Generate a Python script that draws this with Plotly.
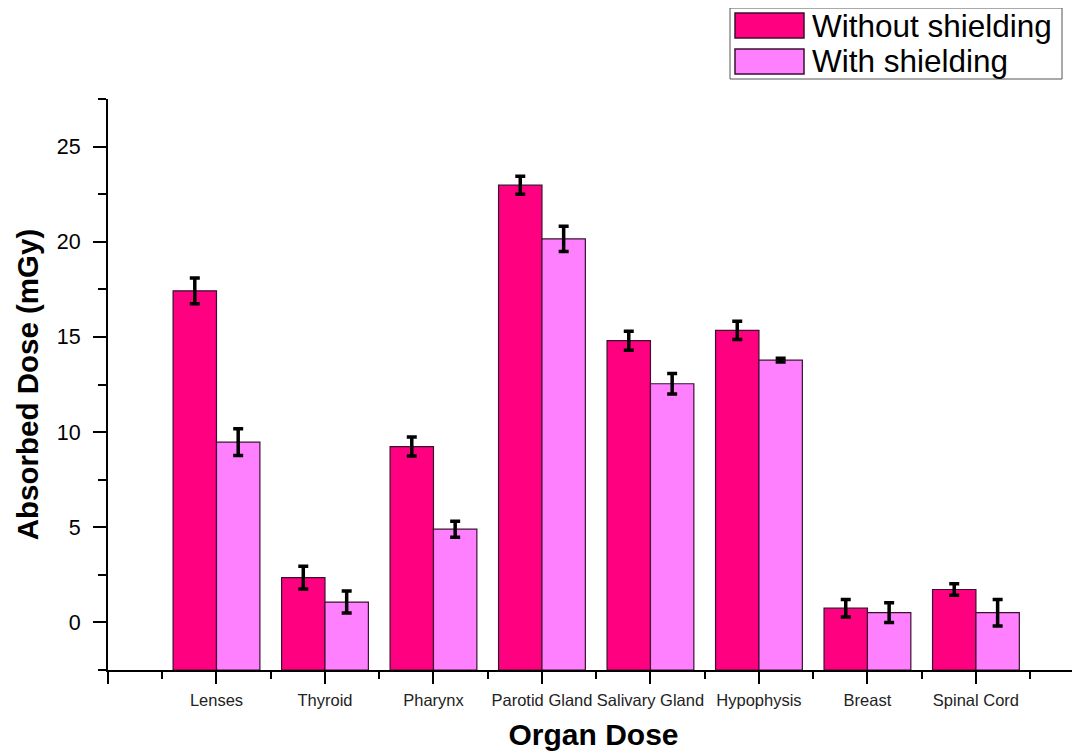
import plotly.graph_objects as go

categories = ["Lenses", "Thyroid", "Pharynx", "Parotid Gland", "Salivary Gland",
              "Hypophysis", "Breast", "Spinal Cord"]
without_shielding = [17.42, 2.35, 9.24, 22.97, 14.80, 15.34, 0.75, 1.73]
without_err = [0.68, 0.60, 0.50, 0.47, 0.50, 0.48, 0.46, 0.30]
with_shielding = [9.47, 1.07, 4.90, 20.15, 12.54, 13.78, 0.51, 0.51]
with_err = [0.70, 0.58, 0.42, 0.66, 0.54, 0.10, 0.52, 0.70]
y_ticks = [0, 5, 10, 15, 20, 25]

Y_MIN, Y_MAX = -2.5, 27.5
C_WITHOUT = "#FF0080"
C_WITH = "#FF80FF"
EDGE = "#3a1030"
FONT = "Arial, Liberation Sans, sans-serif"

xpos = list(range(1, len(categories) + 1))

fig = go.Figure()
for name, vals, errs, col in [("Without shielding", without_shielding, without_err, C_WITHOUT),
                              ("With shielding", with_shielding, with_err, C_WITH)]:
    fig.add_trace(go.Bar(
        name=name, x=xpos, y=[v - Y_MIN for v in vals], base=Y_MIN,
        marker=dict(color=col, line=dict(color=EDGE, width=1.2)),
        error_y=dict(type="data", array=errs, visible=True, color="black",
                     thickness=3.5, width=5),
        showlegend=False,
    ))

# page body has an 8px default margin, so the figure is shifted by 8px
fig.update_layout(
    barmode="group", bargap=0.2, bargroupgap=0,
    width=1080, height=751,
    margin=dict(l=100, r=9, t=91, b=89),
    paper_bgcolor="white", plot_bgcolor="white",
    font=dict(family=FONT, color="black"),
)

fig.update_xaxes(
    range=[0, 8.95], tickmode="array", tickvals=[0] + xpos, ticktext=[""] + categories,
    ticks="outside", ticklen=12, tickwidth=2, tickcolor="black",
    minor=dict(tickmode="linear", tick0=0.5, dtick=1, ticks="outside", ticklen=7,
               tickwidth=2, tickcolor="black", showgrid=False),
    showline=True, linecolor="black", linewidth=2, showgrid=False, zeroline=False,
    tickfont=dict(size=16.5, family=FONT, color="#222222"), ticklabelstandoff=2,
    title=dict(text="<b>Organ Dose</b>", font=dict(size=30, family=FONT), standoff=16),
)
fig.update_yaxes(
    range=[Y_MIN, Y_MAX], tickmode="array", tickvals=y_ticks,
    ticks="outside", ticklen=13, tickwidth=2, tickcolor="black",
    minor=dict(tickmode="linear", tick0=2.5, dtick=5, ticks="outside", ticklen=8,
               tickwidth=2, tickcolor="black", showgrid=False),
    showline=True, linecolor="black", linewidth=2, showgrid=False, zeroline=False,
    tickfont=dict(size=21.5, family=FONT), ticklabelstandoff=8,
    title=dict(text="<b>Absorbed Dose (mGy)</b>", font=dict(size=29.5, family=FONT), standoff=9),
)

# custom legend (large swatches as in the original)
def px_x(p):
    return (p - 108) / 971.0

def px_y(p):
    return (670 - p) / 571.0

fig.add_shape(type="rect", xref="paper", yref="paper",
              x0=px_x(730), x1=px_x(1062), y0=px_y(79), y1=px_y(8),
              line=dict(color="#555555", width=1), fillcolor="white")
for (label, col, yt, yb) in [("Without shielding", C_WITHOUT, 13, 38),
                             ("With shielding", C_WITH, 49, 74)]:
    fig.add_shape(type="rect", xref="paper", yref="paper",
                  x0=px_x(735), x1=px_x(804), y0=px_y(yb), y1=px_y(yt),
                  line=dict(color=EDGE, width=1.5), fillcolor=col)
    fig.add_annotation(xref="paper", yref="paper", x=px_x(810), y=px_y((yt + yb) / 2),
                       xanchor="left", yanchor="middle", text=label, showarrow=False,
                       font=dict(size=31.5, family=FONT, color="black"))

fig.write_html("out.html")
